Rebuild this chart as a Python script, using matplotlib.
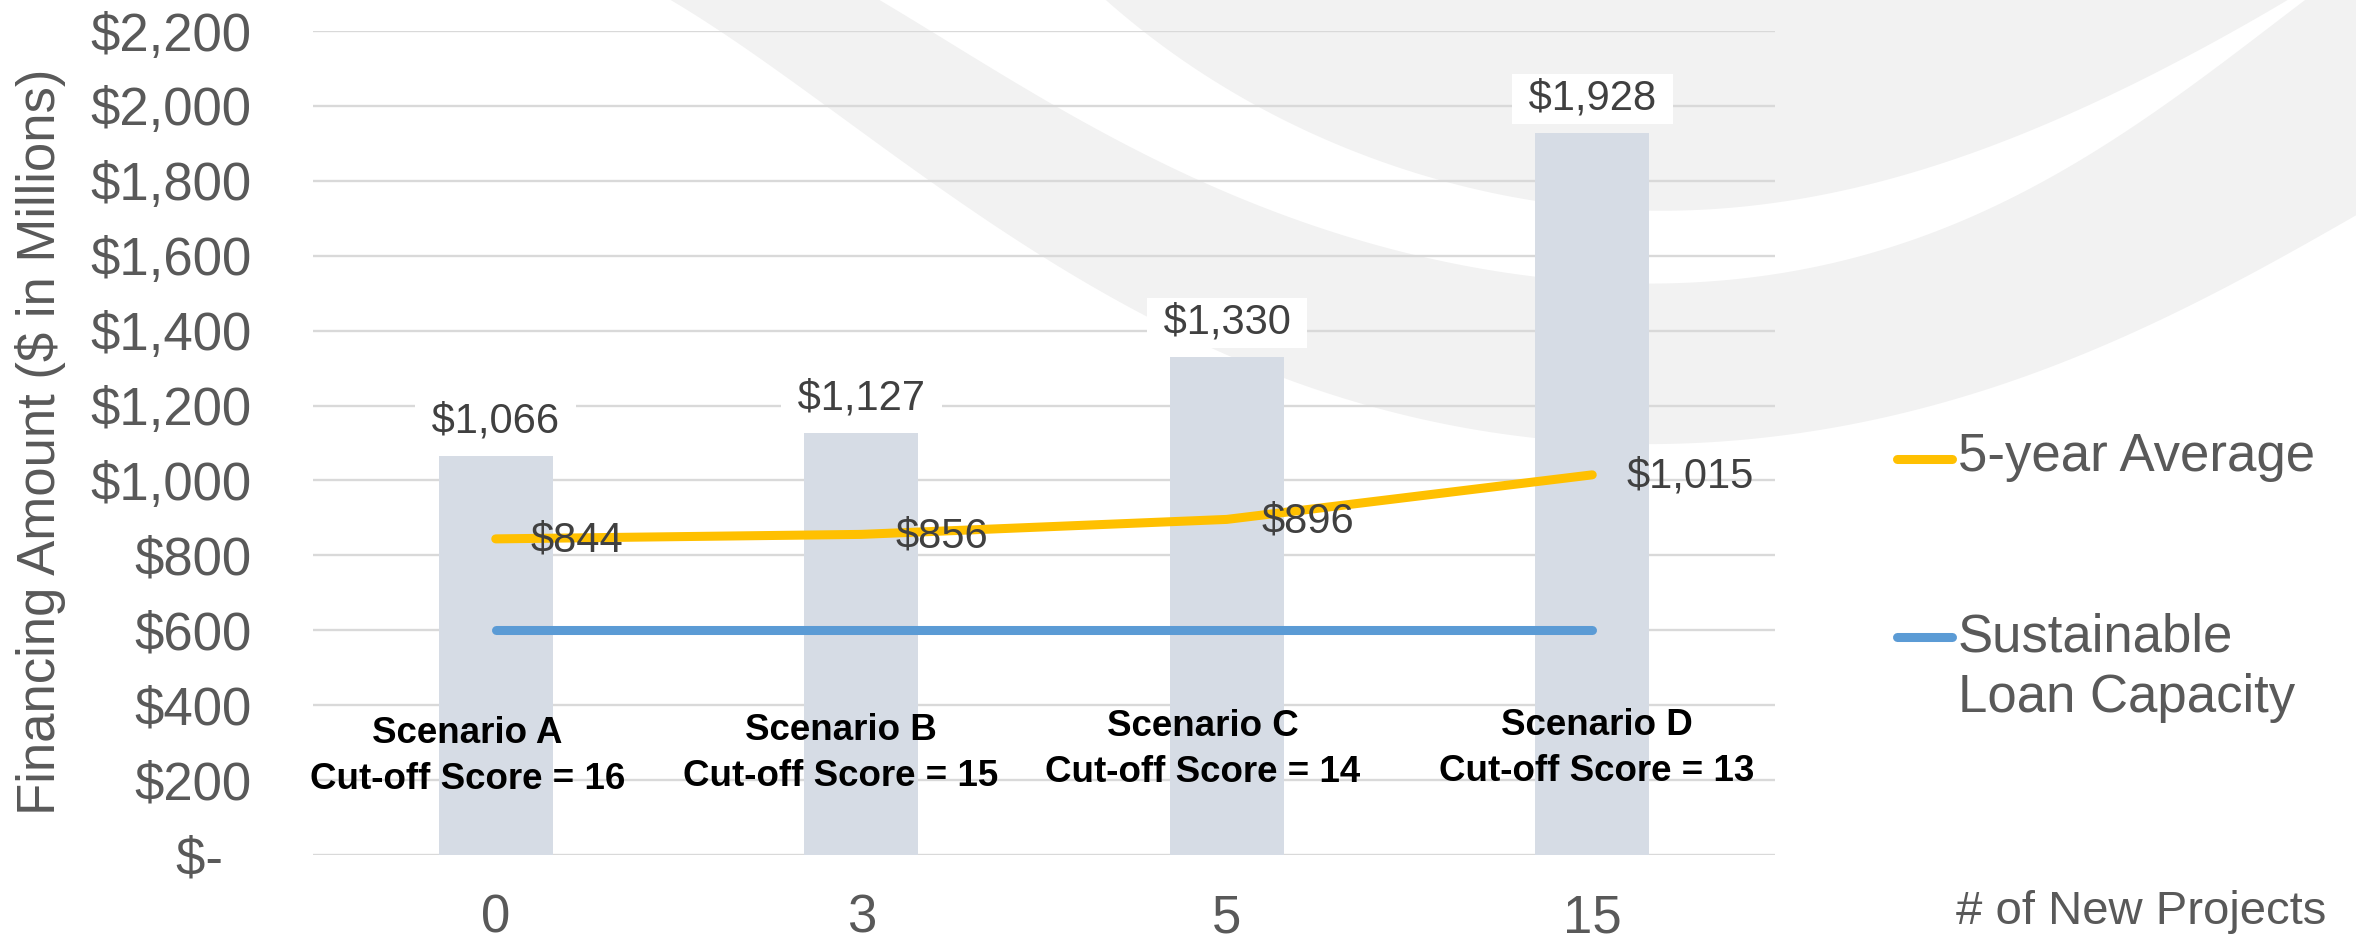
import matplotlib
matplotlib.use('Agg')
import matplotlib.pyplot as plt
from matplotlib.patches import Polygon
from matplotlib.lines import Line2D
import numpy as np

plt.rcParams['font.family'] = ['Liberation Sans', 'DejaVu Sans']

# ---------------- data ----------------
projects = ['0', '3', '5', '15']
financing = [1066, 1127, 1330, 1928]
five_year_avg = [844, 856, 896, 1015]
loan_capacity = [600, 600, 600, 600]
scenario_titles = ['Scenario A', 'Scenario B', 'Scenario C', 'Scenario D']
cutoff_labels = ['Cut-off Score = 16', 'Cut-off Score = 15',
                 'Cut-off Score = 14', 'Cut-off Score = 13']
yticks = list(range(0, 2201, 200))
ytick_labels = ['$-  '] + ['${:,}'.format(v) for v in yticks[1:]]
legend_labels = ['5-year Average', 'Sustainable', 'Loan Capacity']

# layout of the scenario annotations (data coords: x in category units, y baselines)
scen_x = [-0.078, 0.944, 1.934, 3.012]
scen_y1 = [299, 307, 318, 320]
scen_y2 = [176, 184, 195, 198]

W, H = 2356, 941
fig = plt.figure(figsize=(W / 100, H / 100), dpi=100)

# ---------------- decorative background (pixel coordinates) ----------------
bg = fig.add_axes([0, 0, 1, 1], zorder=0)
bg.set_xlim(0, W)
bg.set_ylim(H, 0)
bg.axis('off')

curve1 = [(660, -8), (715, 31), (827, 107), (937, 182), (1049, 257), (1156, 332),
          (1400, 406), (1649, 447), (1756, 440), (1856, 423),
          (1956, 400), (2056, 363), (2156, 320), (2256, 273), (2356, 217),
          (2410, 183)]
curve2 = [(868, -8), (927, 31), (1059, 107), (1205, 182), (1400, 253), (1649, 283),
          (1756, 277), (1856, 257), (1956, 220), (2056, 180), (2156, 110),
          (2223, 60), (2306, 0), (2316, -8)]
curve3 = [(1097, -8), (1143, 31), (1258, 107), (1400, 167), (1649, 213), (1756, 203),
          (1856, 187), (1956, 160), (2056, 120), (2156, 72), (2223, 37), (2289, 0),
          (2300, -8)]


def smooth(pts, deg=5, n=500):
    p = np.array(pts, float)
    x0, x1 = p[0, 0], p[-1, 0]
    t = (p[:, 0] - x0) / (x1 - x0)
    coef = np.polyfit(t, p[:, 1], deg)
    tt = np.linspace(0, 1, n)
    return np.column_stack([x0 + tt * (x1 - x0), np.polyval(coef, tt)])


grey = '#F2F2F2'
c1 = smooth(curve1, 6)
c2 = smooth(curve2, 6)
c3 = smooth(curve3, 6)
band = np.vstack([c1, [[2420, -20]], c2[::-1]])
bg.add_patch(Polygon(band, closed=True, facecolor=grey, edgecolor='none'))
bg.add_patch(Polygon(c3, closed=True, facecolor=grey, edgecolor='none'))

# ---------------- main axes ----------------
left, right, y0px, ytop = 313, 1775, 855, 31
ax = fig.add_axes([left / W, 1 - y0px / H, (right - left) / W, (y0px - ytop) / H], zorder=1)
ax.set_facecolor('none')

x = np.arange(len(projects))
ax.bar(x, financing, width=0.312, color='#D6DCE5', zorder=2)
ax.plot(x, loan_capacity, color='#5B9BD5', lw=6.5, solid_capstyle='round', zorder=3)
ax.plot(x, five_year_avg, color='#FFC000', lw=6.5, solid_capstyle='round', zorder=3)

ax.set_xlim(-0.5, len(projects) - 0.5)
ax.set_ylim(0, 2200)
ax.set_yticks(yticks)
ax.set_yticklabels(ytick_labels)
ax.set_xticks(x)
ax.set_xticklabels(projects)
ax.yaxis.grid(True, color='#D9D9D9', linewidth=1.7, zorder=0)
ax.set_axisbelow(True)
for s in ax.spines.values():
    s.set_visible(False)
ax.tick_params(axis='y', length=0, labelsize=38, labelcolor='#595959', pad=44)
ax.tick_params(axis='x', length=0, labelsize=38, labelcolor='#595959', pad=28)

for i, v in enumerate(financing):
    ax.annotate(' ${:,} '.format(v), (i, v), xytext=(0, 24.5), textcoords='offset points',
                ha='center', va='center', fontsize=30, color='#404040', zorder=4,
                bbox=dict(boxstyle='square,pad=0.12', fc='white', ec='none'))

for i, v in enumerate(five_year_avg):
    ax.annotate('${:,}'.format(v), (i, v), xytext=(25, -1.5), textcoords='offset points',
                ha='left', va='center', fontsize=30, color='#404040', zorder=4)

for sx, y1, y2, t1, t2 in zip(scen_x, scen_y1, scen_y2, scenario_titles, cutoff_labels):
    ax.text(sx, y1, t1, ha='center', va='baseline', fontsize=26.5, fontweight='bold',
            color='black', zorder=5)
    ax.text(sx, y2, t2, ha='center', va='baseline', fontsize=26.5, fontweight='bold',
            color='black', zorder=5)

# ---------------- labels & legend ----------------
fig.text(41 / W, 1 - 442 / H, 'Financing Amount ($ in Millions)', rotation=90,
         ha='center', va='center', fontsize=38, color='#595959')
fig.text(1956 / W, 1 - 912 / H, '# of New Projects', ha='left', va='center',
         fontsize=34, color='#595959')

fig.add_artist(Line2D([1897 / W, 1952 / W], [1 - 459 / H] * 2, transform=fig.transFigure,
                      color='#FFC000', lw=6.5, solid_capstyle='round'))
fig.text(1958 / W, 1 - 457 / H, legend_labels[0], ha='left', va='center',
         fontsize=38, color='#595959')
fig.add_artist(Line2D([1897 / W, 1952 / W], [1 - 637 / H] * 2, transform=fig.transFigure,
                      color='#5B9BD5', lw=6.5, solid_capstyle='round'))
fig.text(1958 / W, 1 - 637 / H, legend_labels[1], ha='left', va='center',
         fontsize=38, color='#595959')
fig.text(1958 / W, 1 - 698 / H, legend_labels[2], ha='left', va='center',
         fontsize=38, color='#595959')

fig.savefig('out.png', dpi=100)
